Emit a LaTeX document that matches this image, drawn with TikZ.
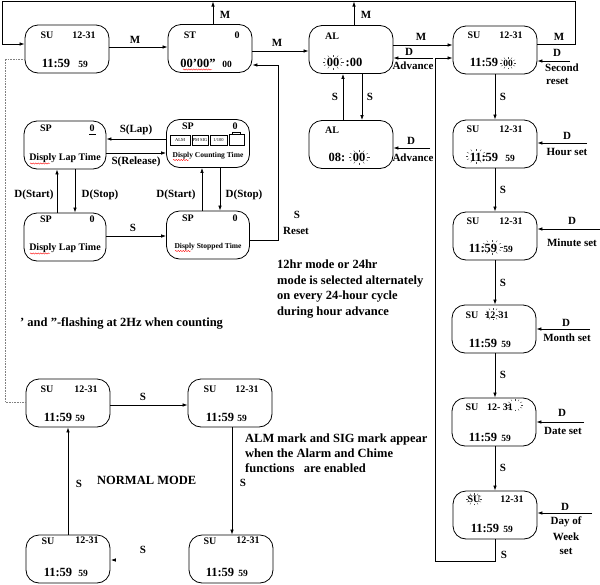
\documentclass[tikz,border=0pt]{standalone}
\usepackage{fontspec}
\setmainfont{Liberation Serif}
\usetikzlibrary{arrows.meta,decorations.pathmorphing,calc}
\tikzset{
 flashbig/.pic={\foreach \a in {0,30,...,330}{\draw[line width=0.35pt,black!75] ({8*cos(\a)},{5.5*sin(\a)}) -- ({10.5*cos(\a)},{7.5*sin(\a)});}},
 flashsm/.pic={\foreach \a in {0,30,...,330}{\draw[line width=0.35pt,black!75] ({6*cos(\a)},{4.5*sin(\a)}) -- ({8.2*cos(\a)},{6.3*sin(\a)});}},
}
\begin{document}
\begin{tikzpicture}[x=1pt,y=-1pt,
 box/.style={draw,line width=0.8pt,rounded corners=13pt,minimum width=84pt,minimum height=48pt,inner sep=0pt},
 t/.style={font=\bfseries\fontsize{10}{10}\selectfont,inner sep=0pt},
 big/.style={font=\bfseries\fontsize{12.5}{13}\selectfont,inner sep=0pt},
 sm/.style={font=\bfseries\fontsize{9.5}{10}\selectfont,inner sep=0pt},
 lab/.style={font=\bfseries\fontsize{11}{12}\selectfont,inner sep=0pt},
 tny/.style={font=\bfseries\fontsize{7.5}{8}\selectfont,inner sep=0pt},
 mini/.style={draw,line width=0.5pt,font=\fontsize{4.5}{4.5}\selectfont,inner sep=0.5pt,minimum height=10pt},
 note/.style={font=\bfseries\fontsize{12.5}{13}\selectfont,inner sep=0pt,anchor=base west},
 arr/.style={-{Latex[length=5pt,width=3.5pt]},line width=0.7pt},
 ln/.style={line width=0.7pt},
 wavy/.style={red,line width=0.4pt,decorate,decoration={snake,amplitude=0.6pt,segment length=2.5pt}},
]
\path[use as bounding box] (0,0) rectangle (600,584);

% ---------- boxes ----------
\node[box] (n1) at (67,49) {};
\node[box] (st) at (210,48.5) {};
\node[box] (alt) at (351,49.5) {};
\node[box] (tsr) at (495,50) {};
\node[box] (alb) at (351,144.5) {};
\node[box] (hr) at (495,144) {};
\node[box] (mn) at (495,236) {};
\node[box] (mo) at (494,329) {};
\node[box] (dt) at (494,422) {};
\node[box] (dw) at (495,515) {};
\node[box,minimum width=82pt] (spl) at (65,145) {};
\node[box,minimum width=83pt] (spc) at (208,143.5) {};
\node[box,minimum width=82pt] (spb) at (65,237) {};
\node[box,minimum width=83pt] (sps) at (208,235) {};
\node[box] (n2) at (68,403) {};
\node[box] (n3) at (230,403) {};
\node[box] (n5) at (68,559) {};
\node[box] (n4) at (231,559) {};

% ---------- box contents ----------
\node[t] (n1a) at (47,35) {SU};
\node[t] (n1b) at (84,35) {12-31};
\node[big] (n1c) at (56,63) {11:59};
\node[sm] (n1d) at (83,64) {59};

\node[t] (sta) at (190,35) {ST};
\node[t] (stb) at (237,35) {0};
\node[big] (stc) at (198,63) {00'00''};
\node[sm] (std) at (227,64) {00};
\draw[wavy] (183,69.5) -- (212,69.5);

\node[t] (ala) at (332,36) {AL};
\node[big] (alc) at (333,62) {00};
\node[big] (ald) at (354,62) {:00};
\pic at (333,62) {flashbig};

\node[t] (tsa) at (474,35) {SU};
\node[t] (tsb) at (511,35) {12-31};
\node[big] (tsc) at (484,62) {11:59};
\node[sm] (tsd) at (508,63) {00};
\pic at (508,63) {flashsm};

\node[t] (bla) at (332,130) {AL};
\node[big] (blc) at (337,157) {08:};
\node[big] (bld) at (359,157) {00};
\pic at (359,157) {flashbig};

\node[t] (hra) at (473,129) {SU};
\node[t] (hrb) at (511,129) {12-31};
\node[big] (hrc) at (484,157) {11:59};
\node[sm] (hrd) at (510,158) {59};
\pic at (476,156) {flashbig};

\node[t] (mna) at (473,221) {SU};
\node[t] (mnb) at (511,221) {12-31};
\node[big] (mnc) at (483,248) {11:59};
\node[sm] (mnd) at (508,249) {59};
\pic at (492,247) {flashbig};

\node[t] (moa) at (472,315) {SU};
\node[t] (mob) at (497,315) {12-31};
\node[big] (moc) at (483,343) {11:59};
\node[sm] (mod) at (506,344) {59};
\pic at (493,314) {flashsm};

\node[t] (dta) at (472,407) {SU};
\node[t] (dtb) at (500,407) {12- 31};
\node[big] (dtc) at (483,437) {11:59};
\node[sm] (dtd) at (506,438) {59};
\pic at (515,405) {flashsm};

\node[t] (dwa) at (474,499) {SU};
\node[t] (dwb) at (512,499) {12-31};
\node[big] (dwc) at (485,528) {11:59};
\node[sm] (dwd) at (508,529) {59};
\pic at (474,499) {flashsm};

\node[t] (spla) at (46,128) {SP};
\node[t] (splb) at (92,128) {0};
\draw[line width=0.5pt] (89,134) -- (96,134);
\node[t] (splc) at (65,158) {Disply Lap Time};
\draw[wavy] (30,163.5) -- (50,163.5);

\node[t] (spca) at (188,126) {SP};
\node[t] (spcb) at (235,126) {0};
\node[mini,minimum width=20pt] (spm1) at (180,140) {ALM};
\node[mini,minimum width=16pt] (spm2) at (200,140) {PM SIG};
\node[mini,minimum width=17pt] (spm3) at (218.5,140) {1/100};
\node[mini,minimum width=15pt,minimum height=11pt] (spm4) at (236.5,140) {};
\node[mini,minimum width=8pt,minimum height=2.5pt,inner sep=0pt] (spm5) at (236.5,133) {};
\node[tny] (spcc) at (208,156) {Disply Counting Time};
\draw[wavy] (173,160) -- (189,160);

\node[t] (spba) at (46,219) {SP};
\node[t] (spbb) at (92,219) {0};
\node[t] (spbc) at (65,248) {Disply Lap Time};
\draw[wavy] (30,253.5) -- (50,253.5);

\node[t] (spsa) at (188,218) {SP};
\node[t] (spsb) at (235,218) {0};
\node[tny] (spsc) at (208,247) {Disply Stopped Time};
\draw[wavy] (175,251) -- (191,251);

\node[t] (n2a) at (47,389) {SU};
\node[t] (n2b) at (86,389) {12-31};
\node[big] (n2c) at (58,417) {11:59};
\node[sm] (n2d) at (80,418) {59};

\node[t] (n3a) at (210,389) {SU};
\node[t] (n3b) at (247,389) {12-31};
\node[big] (n3c) at (220,417) {11:59};
\node[sm] (n3d) at (242,418) {59};

\node[t] (n5a) at (48,541) {SU};
\node[t] (n5b) at (87,540) {12-31};
\node[big] (n5c) at (58,572) {11:59};
\node[sm] (n5d) at (83,573) {59};

\node[t] (n4a) at (210,541) {SU};
\node[t] (n4b) at (248,540) {12-31};
\node[big] (n4c) at (220,572) {11:59};
\node[sm] (n4d) at (243,573) {59};

% ---------- connectors ----------
\coordinate (c1) at (575,44);
\coordinate (c2) at (575,1.5);
\coordinate (c3) at (2,1.5);
\coordinate (c4) at (2,44);
\draw[arr] (tsr.east |- c1) -- (c1) -- (c2) -- (c3) -- (c4) -- (n1.west |- c4);
\node[lab] (lm0) at (559,37) {M};

\coordinate (stup) at (213,1.5);
\draw[arr] (st.north -| stup) -- (stup);
\node[lab] (lm1) at (225,15) {M};
\coordinate (alup) at (354,1.5);
\draw[arr] (alt.north -| alup) -- (alup);
\node[lab] (lm2) at (366,15) {M};

\draw[arr] (n1.east |- 0,47) -- (st.west |- 0,47);
\node[lab] (lm3) at (135,40) {M};
\draw[arr] (st.east |- 0,51) -- (alt.west |- 0,51);
\node[lab] (lm4) at (277,43) {M};
\draw[arr] (alt.east |- 0,45) -- (tsr.west |- 0,45);
\node[lab] (lm5) at (421,37) {M};

\coordinate (adv1) at (433,58);
\draw[arr] (adv1) -- (alt.east |- adv1);
\node[lab] (ld1) at (409,52) {D};
\node[lab] (ladv1) at (413,66) {Advance};

\coordinate (lp1) at (435,561);
\coordinate (lp2) at (435,58);
\draw[arr] (dw.south) -- (dw.south |- lp1) -- (lp1) -- (lp2) -- (tsr.west |- lp2);
\node[lab] (ls0) at (504,555) {S};

\coordinate (sr) at (570,61);
\draw[arr] (sr) -- (tsr.east |- sr);
\node[lab] (ld2) at (557,53) {D};
\node[lab,anchor=west] (lsec) at (545,68) {Second};
\node[lab,anchor=west] (lres) at (546,81) {reset};

\coordinate (av1) at (343,0);
\coordinate (av2) at (362,0);
\draw[arr] (alb.north -| av1) -- (alt.south -| av1);
\draw[arr] (alt.south -| av2) -- (alb.north -| av2);
\node[lab] (ls1) at (335,97) {S};
\node[lab] (ls2) at (370,97) {S};

\coordinate (adv2) at (430,148);
\draw[arr] (adv2) -- (alb.east |- adv2);
\node[lab] (ld3) at (411,141) {D};
\node[lab] (ladv2) at (413,158) {Advance};

\draw[arr] (tsr.south) -- (hr.north);
\node[lab] (ls3) at (503,97) {S};
\draw[arr] (hr.south) -- (mn.north);
\node[lab] (ls4) at (503,190) {S};
\draw[arr] (mn.south -| 495,0) -- (mo.north -| 495,0);
\node[lab] (ls5) at (503,283) {S};
\draw[arr] (mo.south -| 495,0) -- (dt.north -| 495,0);
\node[lab] (ls6) at (503,375) {S};
\draw[arr] (dt.south -| 495,0) -- (dw.north -| 495,0);
\node[lab] (ls7) at (503,468) {S};

\coordinate (hs) at (587,143);
\draw[arr] (hs) -- (hr.east |- hs);
\node[lab] (ld4) at (567,136) {D};
\node[lab] (lhs) at (567,152) {Hour set};

\coordinate (ms) at (600,229);
\draw[arr] (ms) -- (mn.east |- ms);
\node[lab] (ld5) at (572,221) {D};
\node[lab] (lms) at (572,243) {Minute set};

\coordinate (mos) at (590,329);
\draw[arr] (mos) -- (mo.east |- mos);
\node[lab] (ld6) at (566,323) {D};
\node[lab] (lmos) at (567,338) {Month set};

\coordinate (ds) at (584,422);
\draw[arr] (ds) -- (dt.east |- ds);
\node[lab] (ld7) at (562,413) {D};
\node[lab] (lds) at (563,431) {Date set};

\coordinate (ws) at (592,513);
\draw[arr] (ws) -- (dw.east |- ws);
\node[lab] (ld8) at (565,507) {D};
\node[lab] (lw1) at (566,522) {Day of};
\node[lab] (lw2) at (566,537) {Week};
\node[lab] (lw3) at (566,551) {set};

% SP group
\draw[arr] (spc.west |- 0,139) -- (spl.east |- 0,139);
\node[lab] (lsl) at (136,130) {S(Lap)};
\draw[arr] (spl.east |- 0,153) -- (spc.west |- 0,153);
\node[lab] (lsr) at (136,162) {S(Release)};
\coordinate (v1) at (57,0);
\coordinate (v2) at (75,0);
\coordinate (v3) at (202,0);
\coordinate (v4) at (220,0);
\draw[arr] (spb.north -| v1) -- (spl.south -| v1);
\draw[arr] (spl.south -| v2) -- (spb.north -| v2);
\draw[arr] (sps.north -| v3) -- (spc.south -| v3);
\draw[arr] (spc.south -| v4) -- (sps.north -| v4);
\node[lab] (lds1) at (34,195) {D(Start)};
\node[lab] (ldp1) at (100,195) {D(Stop)};
\node[lab] (lds2) at (176,195) {D(Start)};
\node[lab] (ldp2) at (244,195) {D(Stop)};
\draw[arr] (spb.east |- 0,236) -- (sps.west |- 0,236);
\node[lab] (ls8) at (133,228) {S};
\coordinate (rs1) at (278,240);
\coordinate (rs2) at (278,65);
\draw[arr] (sps.east |- rs1) -- (rs1) -- (rs2) -- (st.east |- rs2);
\node[lab] (ls9) at (297,215) {S};
\node[lab] (lrst) at (296,231) {Reset};

% dotted link
\coordinate (d1) at (5,59);
\coordinate (d2) at (5,402);
\draw[densely dotted,gray,line width=0.6pt] (n1.west |- d1) -- (d1) -- (d2) -- (n2.west |- d2);

% normal mode
\draw[arr] (n2.east |- 0,405) -- (n3.west |- 0,405);
\node[lab] (ls10) at (143,397) {S};
\coordinate (v5) at (232,0);
\draw[arr] (n3.south -| v5) -- (n4.north -| v5);
\node[lab] (ls11) at (243,483) {S};
\draw[arr] (n5.north) -- (n2.south);
\node[lab] (ls12) at (79,484) {S};
\draw[arr] ($(n5.east)+(3,1)$) -- ($(n5.east)+(0.5,1)$);
\node[lab] (ls13) at (143,550) {S};

% notes
\node[note] (t1) at (277,268) {12hr mode or 24hr};
\node[note] (t2) at (277,284) {mode is selected alternately};
\node[note] (t3) at (277,299) {on every 24-hour cycle};
\node[note] (t4) at (277,315) {during hour advance};
\node[note] (t5) at (20,326) {{'} and {''}-flashing at 2Hz when counting};
\node[note] (t6) at (245,442) {ALM mark and SIG mark appear};
\node[note] (t7) at (245,457) {when the Alarm and Chime};
\node[note] (t8) at (245,472) {functions \ \ are enabled};
\node[note] (t9) at (97,484) {NORMAL MODE};
\end{tikzpicture}
\end{document}
